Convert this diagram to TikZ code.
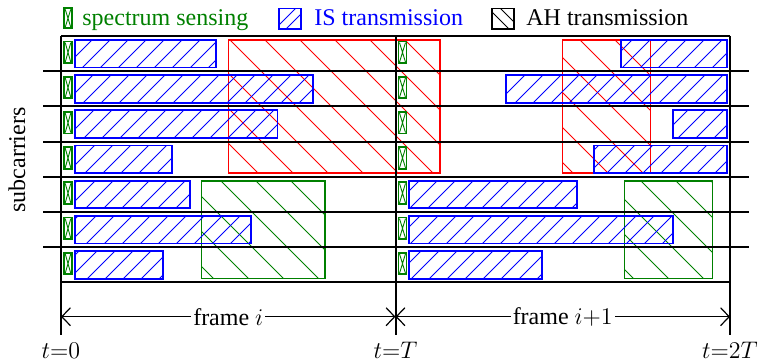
\documentclass[tikz,border=0pt]{standalone}
\usepackage{fontspec}
\setmainfont{Liberation Serif}
\usetikzlibrary{arrows.meta}

\definecolor{isblue}{rgb}{0,0,1}
\definecolor{ahred}{rgb}{1,0,0}
\definecolor{ssgreen}{rgb}{0,0.5,0}

% lines x+y = phase + k*spacing, clipped to a box
\newcommand\hatchne[7]{%
  \begin{scope}
    \clip (#1,#2) rectangle (#3,#4);
    \pgfmathtruncatemacro\hka{floor((#1+#2-#7)/#6)}
    \pgfmathtruncatemacro\hkb{ceil((#3+#4-#7)/#6)}
    \foreach \hk in {\hka,...,\hkb}{
      \pgfmathsetmacro\hc{#7+#6*\hk}
      \draw[#5] ({\hc-#4},#4) -- ({\hc-#2},#2);
    }
  \end{scope}}
% lines x-y = phase + k*spacing, clipped to a box
\newcommand\hatchnw[7]{%
  \begin{scope}
    \clip (#1,#2) rectangle (#3,#4);
    \pgfmathtruncatemacro\hka{floor((#1-#4-#7)/#6)}
    \pgfmathtruncatemacro\hkb{ceil((#3-#2-#7)/#6)}
    \foreach \hk in {\hka,...,\hkb}{
      \pgfmathsetmacro\hc{#7+#6*\hk}
      \draw[#5] ({\hc+#2},#2) -- ({\hc+#4},#4);
    }
  \end{scope}}

% IS transmission block: x1, x2, row
\newcommand\isblock[3]{%
  \pgfmathsetmacro\ya{36+35.2*(#3-1)+4}
  \pgfmathsetmacro\yb{36+35.2*#3-3.7}
  \hatchne{#1}{\ya}{#2}{\yb}{ishatch}{18}{6}
  \draw[isframe] (#1,\ya) rectangle (#2,\yb);}
% AH transmission block: x1, x2, first row, last row, colour, phase
\newcommand\ahblock[6]{%
  \pgfmathsetmacro\ya{36+35.2*(#3-1)+4}
  \pgfmathsetmacro\yb{36+35.2*#4-3.7}
  \hatchnw{#1}{\ya}{#2}{\yb}{ahhatch=#5}{35}{#6}
  \draw[ahframe=#5] (#1,\ya) rectangle (#2,\yb);}
% spectrum sensing slot: x1, x2, row
\newcommand\ssblock[3]{%
  \pgfmathsetmacro\ya{36+35.2*(#3-1)+5.6}
  \pgfmathsetmacro\yb{36+35.2*#3-8}
  \draw[ssx] ({#1+1},{\ya+1}) -- ({#2-1},{\yb-1})
             ({#2-1},{\ya+1}) -- ({#1+1},{\yb-1});
  \draw[ssframe] (#1,\ya) rectangle (#2,\yb);}

\tikzset{
  x=0.5pt, y=-0.5pt,
  ishatch/.style={isblue, line width=0.45pt},
  isframe/.style={isblue, line width=0.9pt},
  ahhatch/.style={#1, line width=0.4pt},
  ahframe/.style={#1, line width=0.75pt},
  ssx/.style={ssgreen, line width=0.45pt},
  ssframe/.style={ssgreen, line width=0.9pt},
  grid/.style={black, line width=1pt},
  framearrow/.style={black, line width=0.6pt,
    {Straight Barb[length=4.3pt,width=9pt]}-{Straight Barb[length=4.3pt,width=9pt]}},
  framelabel/.style={fill=white, inner sep=1pt, font=\fontsize{12}{14}\selectfont},
  txt/.style={font=\fontsize{12}{14}\selectfont, inner sep=0pt},
}

\begin{document}
\begin{tikzpicture}
\useasboundingbox (0,0) rectangle (762,362);

% AH transmissions
\ahblock{228.3}{440}{1}{4}{ahred}{15}
\ahblock{562.7}{650.3}{1}{4}{ahred}{15}
\ahblock{201.7}{325}{5}{7}{ssgreen}{5}
\ahblock{624.3}{712.3}{5}{7}{ssgreen}{5}

% IS transmissions, frame i
\isblock{75}{216}{1}
\isblock{75}{313}{2}
\isblock{75}{277.5}{3}
\isblock{75}{172}{4}
\isblock{75}{190}{5}
\isblock{75}{251}{6}
\isblock{75}{163.3}{7}
% IS transmissions, frame i+1
\isblock{620.7}{726.7}{1}
\isblock{506}{726.7}{2}
\isblock{673.3}{726.7}{3}
\isblock{594}{726.7}{4}
\isblock{409.3}{576.7}{5}
\isblock{409.3}{673.3}{6}
\isblock{409.3}{541.7}{7}

% spectrum sensing at the start of each frame
\foreach \r in {1,...,7}{
  \ssblock{64.2}{71.8}{\r}
  \ssblock{398.5}{406.5}{\r}
}

% subcarrier grid and frame borders
\foreach \r in {1,...,6}{
  \pgfmathsetmacro\yl{36+35.2*\r}
  \draw[grid] (43,\yl) -- (749,\yl);
}
\draw[grid] (61,36) -- (730,36);
\draw[grid] (61,282.4) -- (730,282.4);
\draw[grid] (61,36) -- (61,335);
\draw[grid] (395.5,36) -- (395.5,335);
\draw[grid] (730,36) -- (730,335);

% frame durations
\coordinate (f0) at (61,316.7);
\coordinate (f1) at (395.5,316.7);
\coordinate (f2) at (730,316.7);
\draw[framearrow] (f0) -- node[framelabel] (lfi) {frame $i$} (f1);
\draw[framearrow] (f1) -- node[framelabel] (lfj) {frame $i{+}1$} (f2);

% time instants
\node[txt, anchor=base] (t0) at (61,359) {$t{=}0$};
\node[txt, anchor=base] (tT) at (395.5,359) {$t{=}T$};
\node[txt, anchor=base] (t2T) at (730,359) {$t{=}2T$};

% axis label
\node[txt, rotate=90] (sub) at (17,160) {subcarriers};

% legend
\draw[ssx] (65.2,9.3) -- (70.8,27.3) (70.8,9.3) -- (65.2,27.3);
\draw[ssframe] (64.3,8.3) rectangle (71.7,28.3);
\node[txt, anchor=base west, text=ssgreen] (lss) at (82,26) {spectrum sensing};

\begin{scope}
  \clip (279,8.5) rectangle (301,29);
  \draw[ishatch] (279,25) -- (296,8);
  \draw[ishatch] (286,29) -- (304,11);
\end{scope}
\draw[isframe] (279,8.5) rectangle (301,29);
\node[txt, anchor=base west, text=isblue] (lis) at (314,26) {IS transmission};

\begin{scope}
  \clip (492,8.5) rectangle (514,29);
  \draw[black, line width=0.45pt] (489,9) -- (510,30);
  \draw[black, line width=0.45pt] (500,8) -- (518,26);
\end{scope}
\draw[black, line width=0.9pt] (492,8.5) rectangle (514,29);
\node[txt, anchor=base west] (lah) at (526,26) {AH transmission};
\end{tikzpicture}
\end{document}
